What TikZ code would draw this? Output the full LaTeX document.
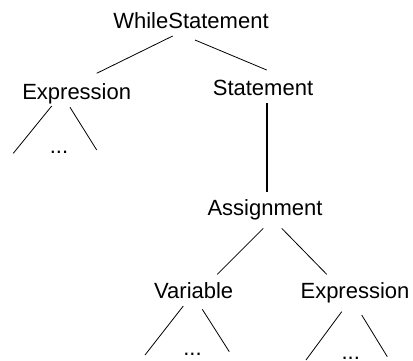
\documentclass[tikz,border=0pt]{standalone}
\usepackage{fontspec}
\setmainfont{Liberation Sans}
\usetikzlibrary{calc}
\begin{document}
\begin{tikzpicture}[x=1pt,y=-1pt,
  lbl/.style={anchor=base,inner sep=0pt,font=\fontsize{22}{26}\selectfont},
  edge/.style={line width=0.8pt},
  trunk/.style={line width=2pt}]
\clip (0,0) rectangle (413,360);
\useasboundingbox (0,0) rectangle (413,360);
\node[lbl] (ws) at (191,28.5) {WhileStatement};
\node[lbl] (expL) at (76.7,99) {Expression};
\node[lbl] (st) at (263,95) {Statement};
\node[lbl] (dotsA) at (59,153.5) {...};
\node[lbl] (asg) at (265,215) {Assignment};
\node[lbl] (var) at (193.7,298.3) {Variable};
\node[lbl] (expR) at (355,298.3) {Expression};
\node[lbl] (dotsB) at (192.5,355) {...};
\node[lbl] (dotsC) at (350.7,359.6) {...};
\coordinate (la1) at (13.3,153.3);
\coordinate (la2) at (96.7,150);
\coordinate (lb1) at (145,355);
\coordinate (lb2) at (229.3,351.7);
\coordinate (lc1) at (306,360);
\coordinate (lc2) at (387.3,356.7);
\draw[edge] ($(ws.base)+(-18.3,7.5)$) -- ($(expL.base)+(20,-25.7)$);
\draw[edge] ($(ws.base)+(4,11.5)$) -- ($(st.base)+(3.7,-25)$);
\draw[trunk] ($(st.base)+(3.7,8.3)$) -- ($(asg.base)+(1.7,-23.3)$);
\draw[edge] ($(expL.base)+(-25,7)$) -- (la1);
\draw[edge] ($(expL.base)+(-6.7,8.3)$) -- (la2);
\draw[edge] ($(asg.base)+(-1.7,13.3)$) -- ($(var.base)+(23.6,-24)$);
\draw[edge] ($(asg.base)+(16.7,13.3)$) -- ($(expR.base)+(-28.3,-24)$);
\draw[edge] ($(var.base)+(-10.4,7.7)$) -- (lb1);
\draw[edge] ($(var.base)+(8.6,11)$) -- (lb2);
\draw[edge] ($(expR.base)+(-13.3,13.4)$) -- (lc1);
\draw[edge] ($(expR.base)+(6.7,16.7)$) -- (lc2);
\end{tikzpicture}
\end{document}
